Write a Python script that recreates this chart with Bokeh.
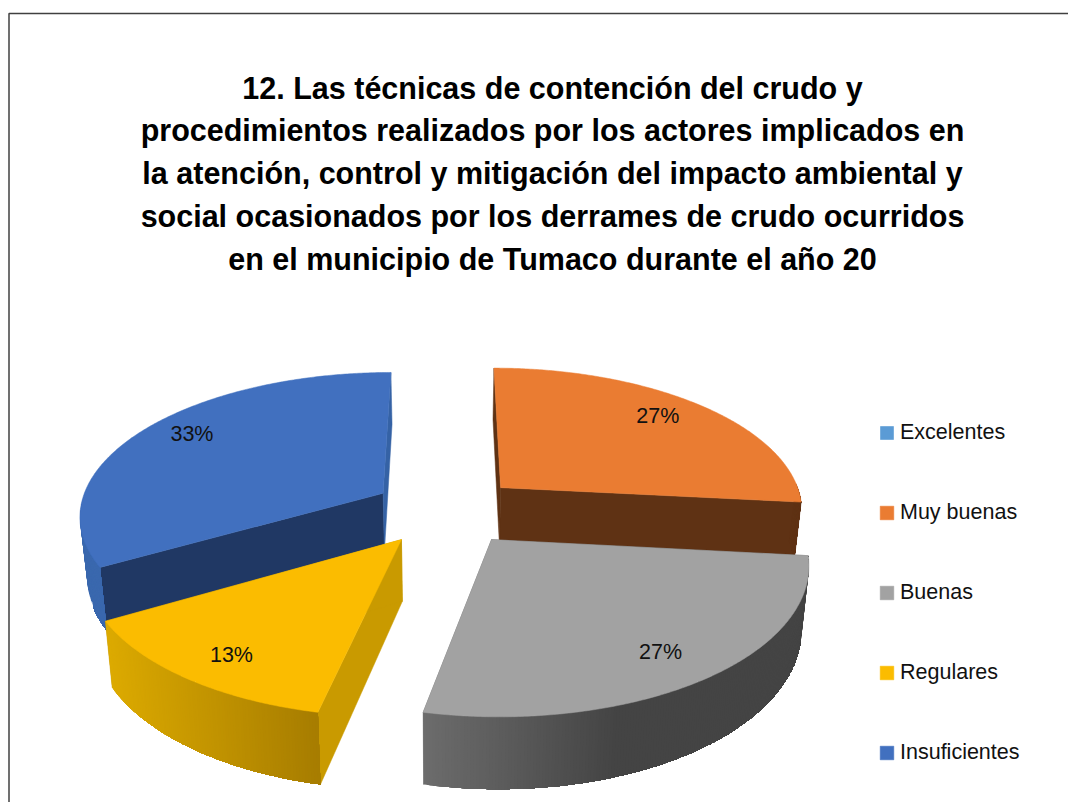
import numpy as np
from bokeh.plotting import figure
from bokeh.embed import file_html
from bokeh.resources import INLINE
from bokeh.core.properties import value
from bokeh.models import Legend, LegendItem

title_lines = [
    "12. Las técnicas de contención del crudo y",
    "procedimientos realizados por los actores implicados en",
    "la atención, control y mitigación del impacto ambiental y",
    "social ocasionados por los derrames de crudo ocurridos",
    "en el municipio de Tumaco durante el año 20",
]
categories = ["Excelentes", "Muy buenas", "Buenas", "Regulares", "Insuficientes"]
counts = [0, 8, 8, 4, 10]
top_fill = ["#5B9BD5", "#EA7C32", "#A2A2A2", "#FBBC00", "#4170BF"]
start_face = ["#2E5A80", "#5F3214", "#6C6C6C", "#C99A00", "#203864"]
end_face = ["#2E5A80", "#5F3214", "#6C6C6C", "#C99A00", "#3562A5"]
wall_near = ["#3E6F9C", "#5F3214", "#6C6C6C", "#DCAA00", "#3A68AE"]
wall_far = ["#3E6F9C", "#5F3214", "#444444", "#A67C00", "#3A68AE"]

FONT = "Liberation Sans"
W, H = 1068, 802
CX, CY, RX, RY, PERSP, EXPL, DEPTH, SHRINK = 446, 510, 304, 142.7, 0.143, 0.245, 60, 0.98
LABEL_NUDGE_X = [0, -5, -1, 4, 8]
LABEL_NUDGE_Y = [0, -4, -1, 2, -8]


def proj(X, Y):
    s = 1 / (1 + PERSP * np.asarray(Y, float))
    return CX + RX * np.asarray(X, float) * s, CY - RY * np.asarray(Y, float) * s


def proj_low(X, Y):
    x, y = proj(X, Y)
    s = 1 / (1 + PERSP * np.asarray(Y, float))
    return CX + (x - CX) * SHRINK, y + DEPTH * s


def mix(c1, c2, t):
    a = [int(c1[i:i + 2], 16) for i in (1, 3, 5)]
    b = [int(c2[i:i + 2], 16) for i in (1, 3, 5)]
    return "#%02x%02x%02x" % tuple(round(u + (v - u) * t) for u, v in zip(a, b))


p = figure(width=W, height=H, x_range=(0, W), y_range=(H, 0),
           x_axis_location=None, y_axis_location=None, toolbar_location=None,
           output_backend="svg", min_border=0, outline_line_color=None,
           background_fill_color="white", border_fill_color="white")
p.grid.visible = False

# chart frame
p.line([8.5, 8.5, W], [H, 13, 13], line_color="#404040", line_width=1.5)

total = sum(counts)
edges = np.cumsum([0] + counts) / total * 360
slices = []
for i, c in enumerate(counts):
    a0, a1 = edges[i], edges[i + 1]
    mid = np.radians((a0 + a1) / 2)
    slices.append(dict(i=i, a0=a0, a1=a1, mid=mid,
                       ox=EXPL * np.sin(mid), oy=EXPL * np.cos(mid)))

legend_renderers = {}
for idx in [4, 1, 3, 2, 0]:  # back to front
    s = slices[idx]
    a0, a1, ox, oy = s["a0"], s["a1"], s["ox"], s["oy"]
    if counts[idx] == 0:
        # a zero share has no area, it only keeps its legend entry
        xz, yz = proj(ox, oy)
        legend_renderers[idx] = p.patch([float(xz)] * 3, [float(yz)] * 3,
                                        fill_color=top_fill[idx], line_color=None)
        continue
    th = np.radians(np.linspace(a0, a1, int(a1 - a0) * 2 + 1))
    AX, AY = ox + np.sin(th), oy + np.cos(th)
    # radial faces
    for ang_idx, col in ((0, start_face[idx]), (-1, end_face[idx])):
        Xf, Yf = [ox, AX[ang_idx]], [oy, AY[ang_idx]]
        xt, yt = proj(Xf, Yf)
        xb, yb = proj_low(Xf, Yf)
        p.patch(list(xt) + list(xb[::-1]), list(yt) + list(yb[::-1]),
                fill_color=col, line_color=col, line_width=0.5)
    # outer wall: overlapping strips so the gradient has no seams
    keep = (np.degrees(th) >= 88) & (np.degrees(th) <= 272)
    if keep.sum() >= 2:
        wx, wy = AX[keep], AY[keep]
        xt, yt = proj(wx, wy)
        xb, yb = proj_low(wx, wy)
        order = np.argsort(xt)
        xt, yt, xb, yb = xt[order], yt[order], xb[order], yb[order]
        span = max(1.0, (xt.max() - xt.min()) * (0.5 if idx == 2 else 1.0))
        xs, ys, cols = [], [], []
        for k in range(0, len(xt) - 1):
            xs.append(list(xt[k:]) + list(xb[k:][::-1]))
            ys.append(list(yt[k:]) + list(yb[k:][::-1]))
            t = min(1, (xt[k] - xt.min()) / span)
            cols.append(mix(wall_near[idx], wall_far[idx], t))
        p.patches(xs, ys, fill_color=cols, line_color=None)
    # top surface
    xt, yt = proj(np.r_[ox, AX], np.r_[oy, AY])
    legend_renderers[idx] = p.patch(list(xt), list(yt), fill_color=top_fill[idx],
                                    line_color=top_fill[idx], line_width=0.5)

# data labels
lx, ly, lt = [], [], []
for s in slices:
    if counts[s["i"]] == 0:
        continue
    X = s["ox"] + 0.82 * np.sin(s["mid"])
    Y = s["oy"] + 0.82 * np.cos(s["mid"])
    x, y = proj(X, Y)
    lx.append(float(x) + LABEL_NUDGE_X[s["i"]] - 2)
    ly.append(float(y) + LABEL_NUDGE_Y[s["i"]] + 2)
    lt.append(f"{round(counts[s['i']] / total * 100)}%")
p.text(lx, ly, text=lt, text_align="center", text_baseline="middle",
       text_font=value(FONT), text_font_size="21.5px", text_color="#111111")

# title
p.text([552] * 5, [87 + 42.8 * k for k in range(5)], text=title_lines,
       text_align="center", text_baseline="middle", text_font=value(FONT),
       text_font_style="bold", text_font_size="30.5px", text_color="#000000")

legend = Legend(
    items=[LegendItem(label=categories[i], renderers=[legend_renderers[i]]) for i in range(5)],
    location=(878, 37), orientation="vertical", spacing=55, margin=0, padding=0,
    glyph_width=17, glyph_height=17, label_height=25, label_standoff=5,
    label_text_font=FONT, label_text_font_size="21.5px", label_text_color="#111111",
    label_text_baseline="middle",
    border_line_color=None, background_fill_alpha=0)
p.add_layout(legend, "center")

open("out.html", "w").write(file_html(p, INLINE))
